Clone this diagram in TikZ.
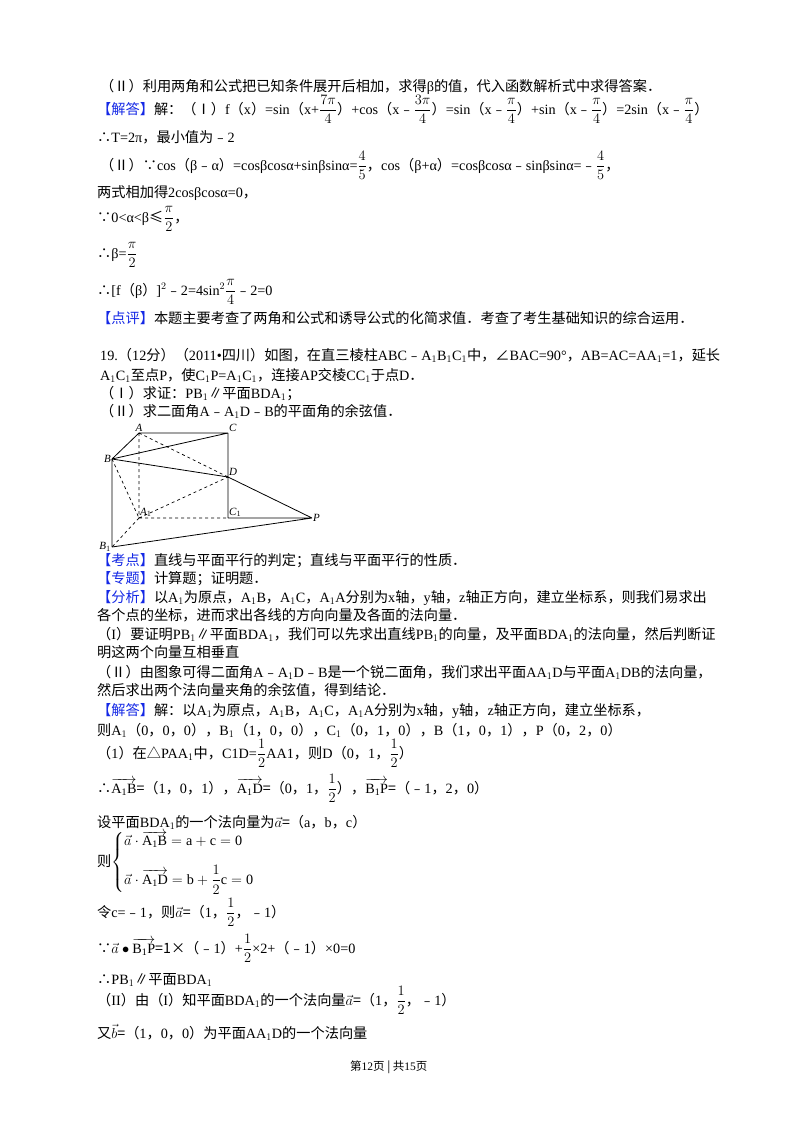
\documentclass[tikz,border=0pt]{standalone}
\usepackage{amsmath}
\usepackage{fontspec}
\setmainfont{Liberation Serif}
\newfontfamily\cjk{Noto Sans CJK SC}
\XeTeXinterchartokenstate=1
\newXeTeXintercharclass\CJKcls
\def\cjkrange#1#2{\count255=#1 \loop \XeTeXcharclass\count255=\CJKcls \ifnum\count255<#2 \advance\count255 by1 \repeat}
\cjkrange{"2160}{"217F}
\cjkrange{"2200}{"22FF}
\cjkrange{"25A0}{"25FF}
\cjkrange{"3000}{"303F}
\cjkrange{"4E00}{"9FFF}
\cjkrange{"FE30}{"FE6F}
\cjkrange{"FF00}{"FFEF}
\XeTeXinterchartoks 0 \CJKcls = {\cjk}
\XeTeXinterchartoks 4095 \CJKcls = {\cjk}
\XeTeXinterchartoks \CJKcls 0 = {\rmfamily}
\definecolor{kblue}{RGB}{20,40,230}
\newcommand{\kb}[1]{{\color{kblue}#1}}
\newcommand{\vv}[1]{\overrightarrow{\mathrm{#1}}}
\begin{document}
\begin{tikzpicture}[x=1pt,y=-1pt,
  ln/.style={anchor=base west,inner sep=0pt,font=\fontsize{14.2}{16}\selectfont},
  lab/.style={inner sep=1pt,font=\fontsize{11}{12}\selectfont\itshape},
  sol/.style={line width=0.8pt},
  dsh/.style={line width=0.7pt,dashed}]
\useasboundingbox[fill=white] (0,0) rectangle (800,1132);
\node[ln] (l1) at (100,92) {（Ⅱ）利用两角和公式把已知条件展开后相加，求得β的值，代入函数解析式中求得答案．};
\node[ln] (l2) at (97,114) {\kb{【解答】}解：（Ⅰ）f（x）=sin（x+$\dfrac{7\pi}{4}$）+cos（x﹣$\dfrac{3\pi}{4}$）=sin（x﹣$\dfrac{\pi}{4}$）+sin（x﹣$\dfrac{\pi}{4}$）=2sin（x﹣$\dfrac{\pi}{4}$）};
\node[ln] (l3) at (97,142) {∴T=2π，最小值为﹣2};
\node[ln] (l4) at (100,170) {（Ⅱ）∵cos（β﹣α）=cosβcosα+sinβsinα=$\dfrac{4}{5}$，cos（β+α）=cosβcosα﹣sinβsinα=﹣$\dfrac{4}{5}$，};
\node[ln] (l5) at (97,197) {两式相加得2cosβcosα=0，};
\node[ln] (l6) at (97,222) {∵0<α<β≤$\dfrac{\pi}{2}$，};
\node[ln] (l7) at (97,258) {∴β=$\dfrac{\pi}{2}$};
\node[ln] (l8) at (97,295) {∴[f（β）]$^2$﹣2=4sin$^2\dfrac{\pi}{4}$﹣2=0};
\node[ln] (l9) at (97,323) {\kb{【点评】}本题主要考查了两角和公式和诱导公式的化简求值．考查了考生基础知识的综合运用．};
\node[ln] (l10) at (100,360) {19.（12分）（2011•四川）如图，在直三棱柱ABC﹣A$_1$B$_1$C$_1$中，∠BAC=90°，AB=AC=AA$_1$=1，延长};
\node[ln] (l11) at (100,380) {A$_1$C$_1$至点P，使C$_1$P=A$_1$C$_1$，连接AP交棱CC$_1$于点D．};
\node[ln] (l12) at (100,398) {（Ⅰ）求证：PB$_1$∥平面BDA$_1$；};
\node[ln] (l13) at (100,416) {（Ⅱ）求二面角A﹣A$_1$D﹣B的平面角的余弦值．};
% figure
\coordinate (A) at (139,433); \coordinate (C) at (228,433);
\coordinate (B) at (112,459); \coordinate (D) at (228,477);
\coordinate (A1) at (139,518); \coordinate (C1) at (228,518);
\coordinate (P) at (312,518); \coordinate (B1) at (112,547);
\draw[sol] (A)--(C) (B)--(A) (B)--(C) (B)--(D) (C)--(C1) (D)--(P) (C1)--(P) (B1)--(P) (B)--(B1);
\draw[dsh] (A)--(A1) (A)--(D) (B)--(A1) (A1)--(D) (A1)--(C1) (A1)--(B1);
\node[lab,above] (nA) at (A) {A};
\node[lab,above right] (nC) at (C) {C};
\node[lab,left] (nB) at (B) {B};
\node[lab,above right] (nD) at (D) {D};
\node[lab,above right] (nA1) at (A1) {A$_1$};
\node[lab,above right] (nC1) at (C1) {C$_1$};
\node[lab,right] (nP) at (P) {P};
\node[lab,left] (nB1) at (B1) {B$_1$};
\node[ln] (m1) at (97,565) {\kb{【考点】}直线与平面平行的判定；直线与平面平行的性质．};
\node[ln] (m2) at (97,583) {\kb{【专题】}计算题；证明题．};
\node[ln] (m3) at (97,602) {\kb{【分析】}以A$_1$为原点，A$_1$B，A$_1$C，A$_1$A分别为x轴，y轴，z轴正方向，建立坐标系，则我们易求出};
\node[ln] (m4) at (97,620) {各个点的坐标，进而求出各线的方向向量及各面的法向量．};
\node[ln] (m5) at (97,639) {（I）要证明PB$_1$∥平面BDA$_1$，我们可以先求出直线PB$_1$的向量，及平面BDA$_1$的法向量，然后判断证};
\node[ln] (m6) at (97,657) {明这两个向量互相垂直};
\node[ln] (m7) at (97,677) {（Ⅱ）由图象可得二面角A﹣A$_1$D﹣B是一个锐二面角，我们求出平面AA$_1$D与平面A$_1$DB的法向量，};
\node[ln] (m8) at (97,695) {然后求出两个法向量夹角的余弦值，得到结论．};
\node[ln] (m9) at (97,715) {\kb{【解答】}解：以A$_1$为原点，A$_1$B，A$_1$C，A$_1$A分别为x轴，y轴，z轴正方向，建立坐标系，};
\node[ln] (m10) at (97,735) {则A$_1$（0，0，0），B$_1$（1，0，0），C$_1$（0，1，0），B（1，0，1），P（0，2，0）};
\node[ln] (m11) at (97,758) {（1）在△PAA$_1$中，C1D=$\dfrac{1}{2}$AA1，则D（0，1，$\dfrac{1}{2}$）};
\node[ln] (m12) at (97,793) {∴$\vv{A_1B}$=（1，0，1），$\vv{A_1D}$=（0，1，$\dfrac{1}{2}$），$\vv{B_1P}$=（﹣1，2，0）};
\node[ln] (m13) at (97,827) {设平面BDA$_1$的一个法向量为$\vec{a}$=（a，b，c）};
\node[ln] (m14) at (97,866) {则$\begin{cases}\vec{a}\cdot\vv{A_1B}=\mathrm{a+c=0}\\[14pt] \vec{a}\cdot\vv{A_1D}=\mathrm{b}+\dfrac{1}{2}\mathrm{c=0}\end{cases}$};
\node[ln] (m15) at (97,917) {令c=﹣1，则$\vec{a}$=（1，$\dfrac{1}{2}$，﹣1）};
\node[ln] (m16) at (97,953) {∵$\vec{a}\bullet\vv{B_1P}$=1×（﹣1）+$\dfrac{1}{2}$×2+（﹣1）×0=0};
\node[ln] (m17) at (97,984) {∴PB$_1$∥平面BDA$_1$};
\node[ln] (m18) at (97,1005) {（II）由（I）知平面BDA$_1$的一个法向量$\vec{a}$=（1，$\dfrac{1}{2}$，﹣1）};
\node[ln] (m19) at (97,1038) {又$\vec{b}$=（1，0，0）为平面AA$_1$D的一个法向量};
\node[ln,font=\fontsize{11.5}{13}\selectfont] (ft) at (350,1070) {第12页 | 共15页};
\end{tikzpicture}
\end{document}
